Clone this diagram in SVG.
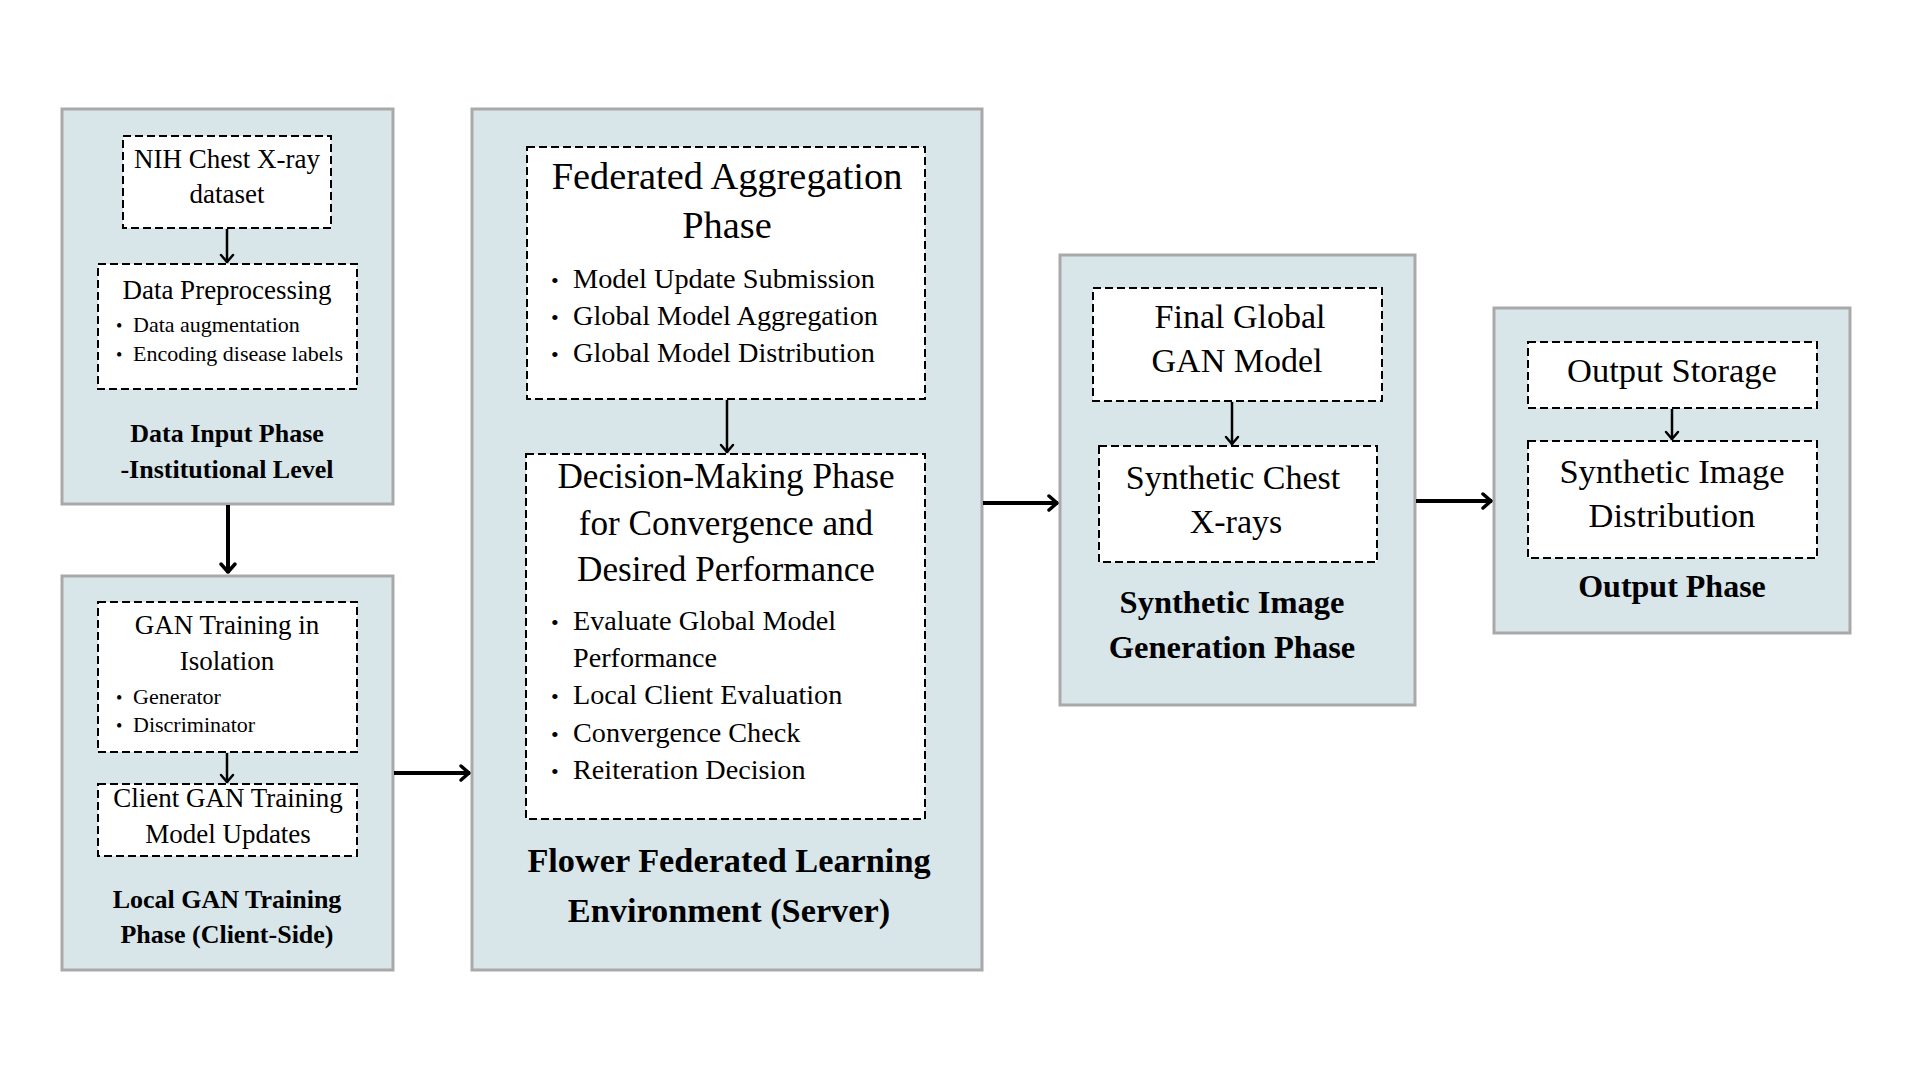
<svg xmlns="http://www.w3.org/2000/svg" width="1920" height="1080" viewBox="0 0 1920 1080">
<style>
.phase{fill:#d8e6ea;stroke:#a9a9a9;stroke-width:3}
.inner{fill:#ffffff;stroke:#000000;stroke-width:2;stroke-dasharray:8 4}
text{font-family:"Liberation Serif","Times New Roman",serif;fill:#000000}
.c{text-anchor:middle}
.b{font-weight:bold}
.conn{stroke:#000000;fill:none}
.main{stroke-width:4}
.sub{stroke-width:2.5}
</style>
<defs>
<marker id="ahMain" viewBox="-12 -10 14 20" markerWidth="14" markerHeight="20" refX="0" refY="0" orient="auto" markerUnits="userSpaceOnUse">
<path d="M-9,-7 L-1,0 L-9,7" fill="none" stroke="#000" stroke-width="3.5" stroke-linecap="round" stroke-linejoin="round"/>
</marker>
<marker id="ahSub" viewBox="-12 -10 14 20" markerWidth="14" markerHeight="20" refX="0" refY="0" orient="auto" markerUnits="userSpaceOnUse">
<path d="M-8,-6 L-1,0 L-8,6" fill="none" stroke="#000" stroke-width="2.5" stroke-linecap="round" stroke-linejoin="round"/>
</marker>
</defs>
<rect width="1920" height="1080" fill="#ffffff"/>

<g id="data-input-phase">
<rect class="phase" x="62" y="109" width="331" height="395"/>
<g id="nih-dataset">
<rect class="inner" x="123" y="136" width="208" height="92"/>
<text class="c" x="227" y="168" font-size="27">NIH Chest X-ray</text>
<text class="c" x="227" y="203" font-size="27">dataset</text>
</g>
<g id="data-preprocessing">
<rect class="inner" x="98" y="264" width="259" height="125"/>
<text class="c" x="227" y="299" font-size="27">Data Preprocessing</text>
<text x="116" y="332" font-size="18">•</text>
<text x="133" y="332" font-size="22">Data augmentation</text>
<text x="116" y="361" font-size="18">•</text>
<text x="133" y="361" font-size="22">Encoding disease labels</text>
</g>
<text class="c b" x="227" y="442" font-size="26">Data Input Phase</text>
<text class="c b" x="227" y="478" font-size="26">-Institutional Level</text>
</g>

<g id="local-gan-training-phase">
<rect class="phase" x="62" y="576" width="331" height="394"/>
<g id="gan-training-isolation">
<rect class="inner" x="98" y="602" width="259" height="150"/>
<text class="c" x="227" y="634" font-size="27">GAN Training in</text>
<text class="c" x="227" y="670" font-size="27">Isolation</text>
<text x="116" y="704" font-size="18">•</text>
<text x="133" y="704" font-size="22">Generator</text>
<text x="116" y="732" font-size="18">•</text>
<text x="133" y="732" font-size="22">Discriminator</text>
</g>
<g id="client-model-updates">
<rect class="inner" x="98" y="784" width="259" height="72"/>
<text class="c" x="228" y="807" font-size="27">Client GAN Training</text>
<text class="c" x="228" y="843" font-size="27">Model Updates</text>
</g>
<text class="c b" x="227" y="908" font-size="26">Local GAN Training</text>
<text class="c b" x="227" y="943" font-size="26">Phase (Client-Side)</text>
</g>

<g id="flower-server">
<rect class="phase" x="472" y="109" width="510" height="861"/>
<g id="federated-aggregation">
<rect class="inner" x="527" y="147" width="398" height="252"/>
<text class="c" x="727" y="189" font-size="38.4">Federated Aggregation</text>
<text class="c" x="727" y="238" font-size="38.4">Phase</text>
<text x="551" y="288" font-size="22">•</text>
<text x="573" y="288" font-size="28.3">Model Update Submission</text>
<text x="551" y="325" font-size="22">•</text>
<text x="573" y="325" font-size="28.3">Global Model Aggregation</text>
<text x="551" y="362" font-size="22">•</text>
<text x="573" y="362" font-size="28.3">Global Model Distribution</text>
</g>
<g id="decision-making">
<rect class="inner" x="526" y="454" width="399" height="365"/>
<text class="c" x="726" y="488" font-size="35.2">Decision-Making Phase</text>
<text class="c" x="726" y="535" font-size="35.2">for Convergence and</text>
<text class="c" x="726" y="581" font-size="35.2">Desired Performance</text>
<text x="551" y="630" font-size="22">•</text>
<text x="573" y="630" font-size="28.2">Evaluate Global Model</text>
<text x="573" y="667" font-size="28.2">Performance</text>
<text x="551" y="704" font-size="22">•</text>
<text x="573" y="704" font-size="28.2">Local Client Evaluation</text>
<text x="551" y="742" font-size="22">•</text>
<text x="573" y="742" font-size="28.2">Convergence Check</text>
<text x="551" y="779" font-size="22">•</text>
<text x="573" y="779" font-size="28.2">Reiteration Decision</text>
</g>
<text class="c b" x="729" y="872" font-size="34.3">Flower Federated Learning</text>
<text class="c b" x="729" y="922" font-size="34.3">Environment (Server)</text>
</g>

<g id="synthetic-generation-phase">
<rect class="phase" x="1060" y="255" width="355" height="450"/>
<g id="final-global-gan">
<rect class="inner" x="1093" y="288" width="289" height="113"/>
<text class="c" x="1240" y="328" font-size="34">Final Global</text>
<text class="c" x="1237" y="372" font-size="34">GAN Model</text>
</g>
<g id="synthetic-chest-xrays">
<rect class="inner" x="1099" y="446" width="278" height="116"/>
<text class="c" x="1233" y="489" font-size="34">Synthetic Chest</text>
<text class="c" x="1236" y="533" font-size="34">X-rays</text>
</g>
<text class="c b" x="1232" y="613" font-size="32.5">Synthetic Image</text>
<text class="c b" x="1232" y="658" font-size="32.5">Generation Phase</text>
</g>

<g id="output-phase">
<rect class="phase" x="1494" y="308" width="356" height="325"/>
<g id="output-storage">
<rect class="inner" x="1528" y="342" width="289" height="66"/>
<text class="c" x="1672" y="382" font-size="34.5">Output Storage</text>
</g>
<g id="synthetic-distribution">
<rect class="inner" x="1528" y="441" width="289" height="117"/>
<text class="c" x="1672" y="483" font-size="34.5">Synthetic Image</text>
<text class="c" x="1672" y="527" font-size="34.5">Distribution</text>
</g>
<text class="c b" x="1672" y="597" font-size="32">Output Phase</text>
</g>

<g id="connectors">
<line class="conn main" x1="228" y1="505" x2="228" y2="573" marker-end="url(#ahMain)"/>
<line class="conn main" x1="394" y1="773" x2="470" y2="773" marker-end="url(#ahMain)"/>
<line class="conn main" x1="983" y1="503" x2="1058" y2="503" marker-end="url(#ahMain)"/>
<line class="conn main" x1="1416" y1="501" x2="1492" y2="501" marker-end="url(#ahMain)"/>
<line class="conn sub" x1="227" y1="229" x2="227" y2="263" marker-end="url(#ahSub)"/>
<line class="conn sub" x1="227" y1="753" x2="227" y2="783" marker-end="url(#ahSub)"/>
<line class="conn sub" x1="727" y1="400" x2="727" y2="453" marker-end="url(#ahSub)"/>
<line class="conn sub" x1="1232" y1="402" x2="1232" y2="445" marker-end="url(#ahSub)"/>
<line class="conn sub" x1="1672" y1="409" x2="1672" y2="440" marker-end="url(#ahSub)"/>
</g>
</svg>
